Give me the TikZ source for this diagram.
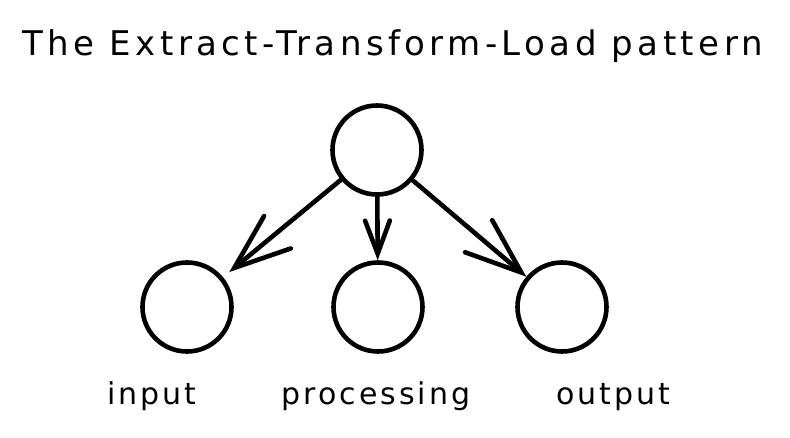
\documentclass[tikz,border=0pt]{standalone}
\usepackage{fontspec}
\usetikzlibrary{arrows.meta}
\newfontfamily\titlefont{DejaVu Sans}[LetterSpace=13]
\newfontfamily\handfont{DejaVu Sans}[LetterSpace=10]

\tikzset{
  ball/.style={circle, draw, line width=4.6pt, minimum size=89pt, inner sep=0pt},
  flow/.style={line width=4.6pt, line cap=round, line join=round,
    -{Straight Barb[length=#1pt, width'=0pt 0.75, line cap=round]}},
  caption/.style={font=\handfont\fontsize{30}{30}\selectfont, inner sep=0pt, anchor=base}
}

\begin{document}
\begin{tikzpicture}[x=1pt,y=-1pt]
    \useasboundingbox (0,0) rectangle (790,438);
    \node[caption, font=\titlefont\fontsize{34}{34}\selectfont] (title) at (393,56) {The Extract-Transform-Load pattern};
    \node[ball] (etl) at (377,150) {};
    \node[ball] (input) at (187,307) {};
    \node[ball] (processing) at (378,307) {};
    \node[ball] (output) at (562,307) {};
    \draw[flow=56,shorten >=8pt] (etl) -- (input);
    \draw[flow=33] (etl) -- (processing);
    \draw[flow=56] (etl) -- (output);
    \node[caption] (inputlabel) at (152,404) {input};
    \node[caption] (processinglabel) at (376,404) {processing};
    \node[caption] (outputlabel) at (613,404) {output};
\end{tikzpicture}
\end{document}
